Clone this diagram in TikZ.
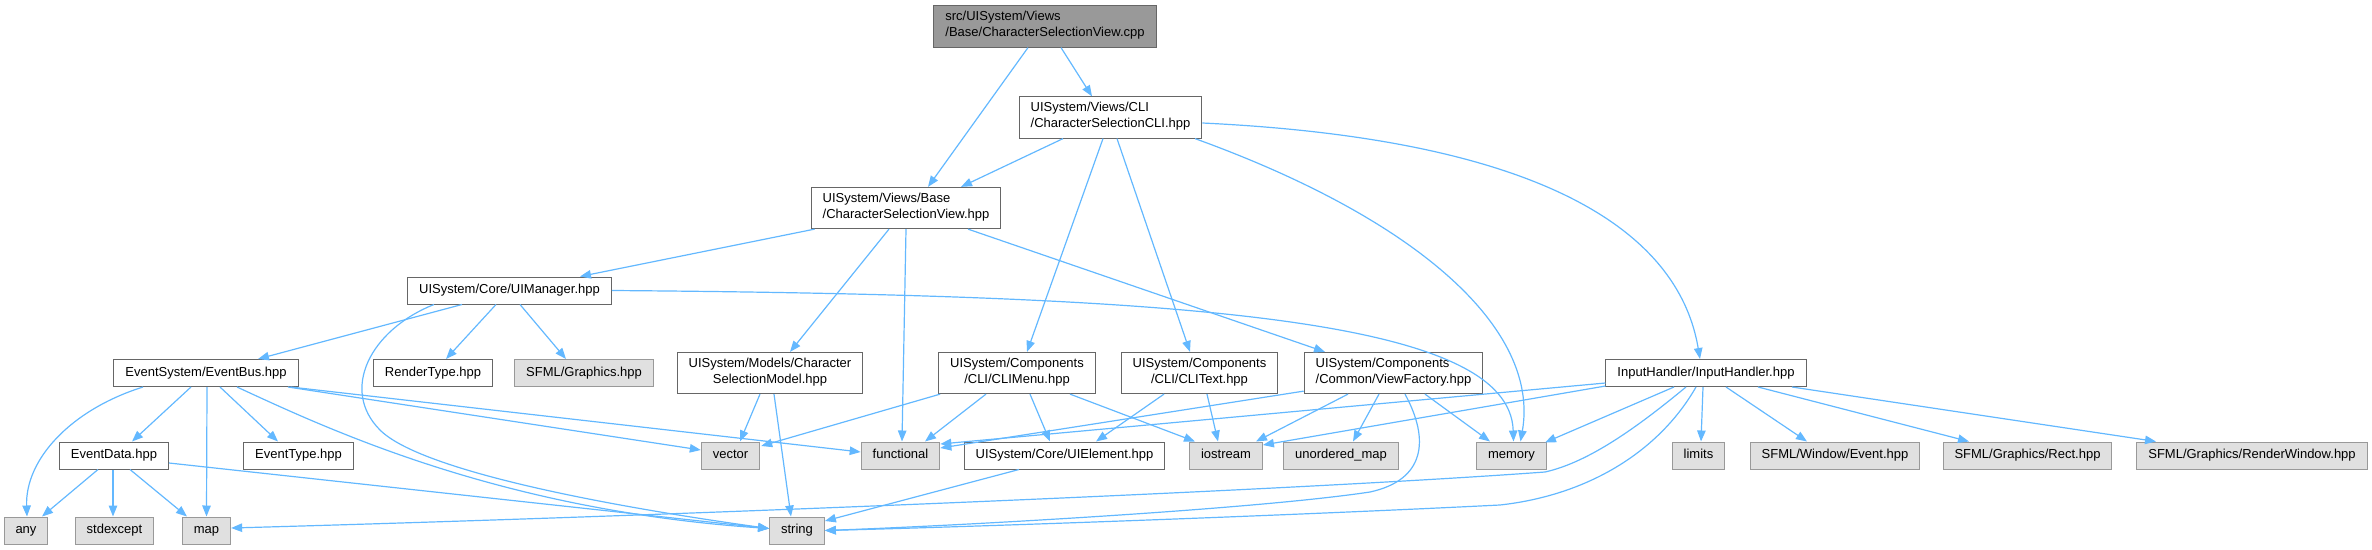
\documentclass[tikz,border=0pt]{standalone}
\usepackage{fontspec}
\setmainfont{Liberation Sans}
\usetikzlibrary{arrows.meta}
\definecolor{edgeblue}{HTML}{63B8FF}
\definecolor{boxline}{HTML}{666666}
\definecolor{sysline}{HTML}{999999}
\definecolor{sysfill}{HTML}{E0E0E0}
\definecolor{mainfill}{HTML}{999999}

\begin{document}
\begin{tikzpicture}[x=1pt, y=-1pt,
  file/.style={draw=boxline, fill=white, line width=1pt, font=\fontsize{13}{16}\selectfont,
    inner xsep=11.5pt, inner ysep=5.5pt, execute at begin node=\strut, execute at end node=\strut},
  sysfile/.style={file, draw=sysline, fill=sysfill},
  srcfile/.style={file, fill=mainfill},
  inc/.style={draw=edgeblue, line width=1.2pt, -{Triangle[length=11pt, width=8.5pt]}}]
  \useasboundingbox (0,0) rectangle (2372,549);

  % the file itself and the headers it pulls in
  \node[srcfile, align=left] (main) at (1045,26.5) {src/UISystem/Views\\/Base/CharacterSelectionView.cpp};
  \node[file, align=left] (cli) at (1110.5,117.5) {UISystem/Views/CLI\\/CharacterSelectionCLI.hpp};
  \node[file, align=left] (view) at (906,208) {UISystem/Views/Base\\/CharacterSelectionView.hpp};
  \node[file] (uimgr) at (509.5,290.5) {UISystem/Core/UIManager.hpp};

  \node[file] (bus) at (206,373) {EventSystem/EventBus.hpp};
  \node[file] (render) at (433,373) {RenderType.hpp};
  \node[sysfile] (sfgfx) at (584,373) {SFML/Graphics.hpp};
  \node[file, align=center] (model) at (770,373) {UISystem/Models/Character\\SelectionModel.hpp};
  \node[file, align=center] (climenu) at (1017,373) {UISystem/Components\\/CLI/CLIMenu.hpp};
  \node[file, align=center] (clitext) at (1199.5,373) {UISystem/Components\\/CLI/CLIText.hpp};
  \node[file, align=left] (factory) at (1393.5,373) {UISystem/Components\\/Common/ViewFactory.hpp};
  \node[file] (input) at (1706,373) {InputHandler/InputHandler.hpp};

  \node[file] (evdata) at (114,455.5) {EventData.hpp};
  \node[file] (evtype) at (298.5,455.5) {EventType.hpp};
  \node[sysfile] (vector) at (730.5,455.5) {vector};
  \node[sysfile] (functional) at (900.5,455.5) {functional};
  \node[file] (uielem) at (1064.5,455.5) {UISystem/Core/UIElement.hpp};
  \node[sysfile] (iostream) at (1226,455.5) {iostream};
  \node[sysfile] (umap) at (1341,455.5) {unordered\_map};
  \node[sysfile] (memory) at (1511.5,455.5) {memory};
  \node[sysfile] (limits) at (1698.5,455.5) {limits};
  \node[sysfile] (sfevent) at (1835,455.5) {SFML/Window/Event.hpp};
  \node[sysfile] (sfrect) at (2027.5,455.5) {SFML/Graphics/Rect.hpp};
  \node[sysfile] (sfrw) at (2252,455.5) {SFML/Graphics/RenderWindow.hpp};

  \node[sysfile] (any) at (26,530.5) {any};
  \node[sysfile] (stdexcept) at (114.5,530.5) {stdexcept};
  \node[sysfile] (map) at (206.5,530.5) {map};
  \node[sysfile] (string) at (797,530.5) {string};

  % CharacterSelectionView.cpp
  \draw[inc] ([xshift=-17pt]main.south) -- ([xshift=22pt]view.north);
  \draw[inc] ([xshift=16pt]main.south) -- ([xshift=-18.5pt]cli.north);

  % CharacterSelectionCLI.hpp
  \draw[inc] ([xshift=-47.5pt]cli.south) -- ([xshift=55pt]view.north);
  \draw[inc] ([xshift=-7.5pt]cli.south) -- ([xshift=10pt]climenu.north);
  \draw[inc] ([xshift=6.5pt]cli.south) -- ([xshift=-9.5pt]clitext.north);
  \draw[inc] ([xshift=84.5pt]cli.south) .. controls (1420,220) and (1540,330) .. ([xshift=9pt]memory.north);
  \draw[inc] ([yshift=-5.5pt]cli.east) .. controls (1560,140) and (1680,240) .. ([xshift=-6pt]input.north);

  % CharacterSelectionView.hpp
  \draw[inc] ([xshift=4pt]view.south west) -- ([xshift=70.5pt]uimgr.north);
  \draw[inc] ([xshift=-17pt]view.south) -- ([xshift=20pt]model.north);
  \draw[inc] (view.south) -- ([xshift=1.5pt]functional.north);
  \draw[inc] ([xshift=62pt]view.south) -- ([xshift=-68.5pt]factory.north);

  % UIManager.hpp
  \draw[inc] ([xshift=-47.5pt]uimgr.south) -- ([xshift=52pt]bus.north);
  \draw[inc] ([xshift=-13.5pt]uimgr.south) -- ([xshift=13pt]render.north);
  \draw[inc] ([xshift=10.5pt]uimgr.south) -- ([xshift=-18pt]sfgfx.north);
  \draw[inc] ([xshift=-75.5pt]uimgr.south) .. controls (370,330) and (340,390) .. (380,430)
    .. controls (420,470) and (600,505) .. ([yshift=2pt]string.west);
  \draw[inc] (uimgr.east) .. controls (1200,295) and (1510,320) .. ([xshift=2pt]memory.north);

  % EventBus.hpp
  \draw[inc] ([xshift=-15pt]bus.south) -- ([xshift=18pt]evdata.north);
  \draw[inc] ([xshift=1pt]bus.south) -- (map.north);
  \draw[inc] ([xshift=14pt]bus.south) -- ([xshift=-20.5pt]evtype.north);
  \draw[inc] ([xshift=-63pt]bus.south) .. controls (70,410) and (25,460) .. ([xshift=1pt]any.north);
  \draw[inc] ([xshift=31pt]bus.south) .. controls (330,430) and (500,510) .. ([yshift=2pt]string.west);
  \draw[inc] ([xshift=82pt]bus.south) -- ([yshift=5.5pt]vector.west);
  \draw[inc] ([xshift=-8pt]bus.south east) -- ([yshift=3.5pt]functional.west);

  % EventData.hpp
  \draw[inc] ([xshift=-16pt]evdata.south) -- ([xshift=16pt]any.north);
  \draw[inc] ([xshift=-1pt]evdata.south) -- ([xshift=-1.5pt]stdexcept.north);
  \draw[inc] ([xshift=16pt]evdata.south) -- ([xshift=-19.5pt]map.north);
  \draw[inc] ([yshift=-7.5pt]evdata.east) -- ([yshift=2pt]string.west);

  % CharacterSelectionModel.hpp
  \draw[inc] ([xshift=-10pt]model.south) -- ([xshift=9.5pt]vector.north);
  \draw[inc] ([xshift=4pt]model.south) -- ([xshift=-6pt]string.north);

  % CLIMenu.hpp
  \draw[inc] ([xshift=2pt]climenu.south west) -- ([xshift=1pt,yshift=9.5pt]vector.east);
  \draw[inc] ([xshift=-31pt]climenu.south) -- ([xshift=24.5pt]functional.north);
  \draw[inc] ([xshift=13pt]climenu.south) -- ([xshift=-14.5pt]uielem.north);
  \draw[inc] ([xshift=53pt]climenu.south) -- ([xshift=-31pt]iostream.north);

  % CLIText.hpp
  \draw[inc] ([xshift=-35.5pt]clitext.south) -- ([xshift=31.5pt]uielem.north);
  \draw[inc] ([xshift=7.5pt]clitext.south) -- ([xshift=-8pt]iostream.north);

  % ViewFactory.hpp
  \draw[inc] ([yshift=3pt]factory.south west) -- ([yshift=7.5pt]functional.east);
  \draw[inc] ([xshift=-45.5pt]factory.south) -- ([xshift=30pt]iostream.north);
  \draw[inc] ([xshift=-14.5pt]factory.south) -- ([xshift=12pt]umap.north);
  \draw[inc] ([xshift=31.5pt]factory.south) -- ([xshift=-21.5pt]memory.north);
  \draw[inc] ([xshift=11.5pt]factory.south) .. controls (1430,440) and (1425,480) .. (1370,492)
    .. controls (1250,510) and (950,526) .. (string.east);

  % UIElement.hpp
  \draw[inc] ([xshift=-45.5pt]uielem.south) -- ([yshift=9.5pt]string.east);

  % InputHandler.hpp
  \draw[inc] ([yshift=-10pt]input.west) -- ([yshift=11.5pt]functional.east);
  \draw[inc] ([yshift=-13pt]input.west) -- ([yshift=10.5pt]iostream.east);
  \draw[inc] ([xshift=-32pt]input.south) -- ([xshift=-2pt,yshift=-1pt]memory.north east);
  \draw[inc] ([xshift=-20pt]input.south) .. controls (1640,425) and (1590,462) .. (1545,472)
    .. controls (1300,490) and (700,515) .. ([yshift=2.5pt]map.east);
  \draw[inc] ([xshift=-10pt]input.south) .. controls (1660,450) and (1590,495) .. (1500,505)
    .. controls (1300,515) and (1000,526) .. (string.east);
  \draw[inc] ([xshift=-3pt]input.south) -- ([xshift=2.5pt]limits.north);
  \draw[inc] ([xshift=20pt]input.south) -- ([xshift=-28pt]sfevent.north);
  \draw[inc] ([xshift=52pt]input.south) -- ([xshift=-58.5pt]sfrect.north);
  \draw[inc] ([xshift=86pt]input.south) -- ([xshift=-96pt]sfrw.north);
\end{tikzpicture}
\end{document}
